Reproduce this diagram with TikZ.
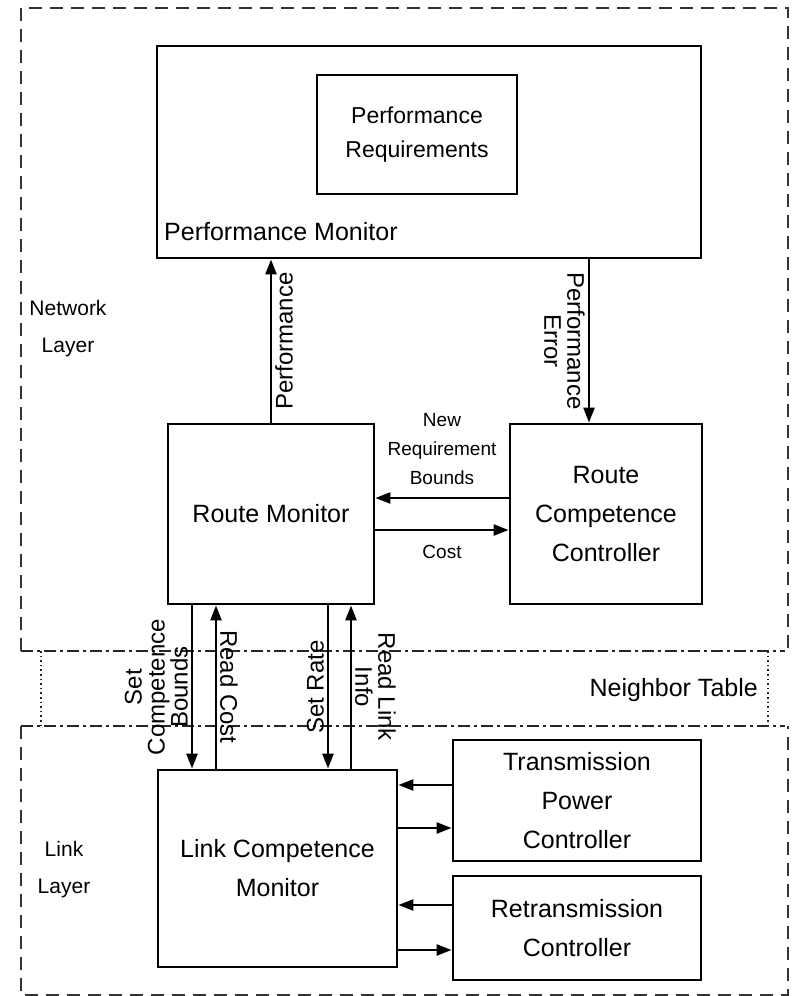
\documentclass[tikz,border=0pt]{standalone}
\usepackage{fontspec}
\setmainfont{Liberation Sans}
\usetikzlibrary{arrows.meta,positioning,calc}
\tikzset{
  >={Triangle[length=15pt,width=11pt]},
  box/.style 2 args={draw,line width=2.8pt,minimum width=#1,minimum height=#2,
    align=center,inner sep=0pt,font=\fontsize{25}{39}\selectfont},
  boxtext/.style={font=\fontsize{25}{39}\selectfont,inner sep=0pt},
  layername/.style={font=\fontsize{21}{37}\selectfont,align=center,inner sep=0pt},
  hlabel/.style={font=\fontsize{19}{29}\selectfont,align=center,inner sep=4pt},
  vlabel/.style={font=\fontsize{24}{23}\selectfont,align=center,inner sep=3pt},
  flow/.style={->,line width=2.4pt},
  layerline/.style={draw=black!80,line width=2.8pt,dash pattern=on 13pt off 8pt},
  boundline/.style={draw=black!85,line width=2.8pt,dash pattern=on 12pt off 4pt on 3pt off 4pt},
  nbline/.style={draw=black!85,line width=1.6pt,dash pattern=on 1.6pt off 3pt},
}
\begin{document}
\begin{tikzpicture}[x=1pt,y=-1pt]
  \useasboundingbox (0,0) rectangle (792,996);
  % layers
  \draw[layerline] (21,651) -- (21,8) -- (788,8) -- (788,651);
  \draw[layerline] (21,726) -- (21,995) -- (788,995) -- (788,726);
  \draw[boundline] (21,651) -- (785,651);
  \draw[boundline] (21,726) -- (785,726);
  \draw[nbline] (41,651) -- (41,726) (768,651) -- (768,726);
  \node[layername] (netlayer) at (68,329) {Network\\Layer};
  \node[layername] (linklayer) at (64,870) {Link\\Layer};
  \node[boxtext,anchor=east] (nbtable) at (758,690) {Neighbor Table};

  % network layer
  \node[box={544pt}{212pt}] (perfmon) at (429,152) {};
  \node[box={200pt}{119pt},font=\fontsize{23}{34}\selectfont] (perfreq) at (417,134.5) {Performance\\Requirements};
  \node[boxtext,anchor=west] (pmtitle) at (164,232) {Performance Monitor};
  \node[box={206pt}{180pt}] (routemon) at (271,514) {Route Monitor};
  \node[box={192pt}{180pt}] (rcc) at (606,514) {Route\\Competence\\Controller};

  % link layer
  \node[box={239pt}{197pt}] (lcm) at (277.5,868.5) {Link Competence\\Monitor};
  \node[box={248pt}{121pt}] (tpc) at (577,800.5) {Transmission\\Power\\Controller};
  \node[box={248pt}{104pt}] (rtc) at (577,928) {Retransmission\\Controller};

  \draw[flow] (routemon.north) -- (routemon.north |- perfmon.south)
    node[midway,vlabel,rotate=90,anchor=north] {Performance};
  \draw[flow] ([xshift=-17pt]rcc.north |- perfmon.south) -- ([xshift=-17pt]rcc.north)
    node[midway,vlabel,rotate=-90,anchor=north] {Performance\\Error};
  \draw[flow] ([yshift=16pt]rcc.west) -- ([yshift=16pt]routemon.east)
    node[midway,above=8pt,hlabel] {New\\Requirement\\Bounds};
  \draw[flow] ([yshift=-16pt]routemon.east) -- ([yshift=-16pt]rcc.west)
    node[midway,below=10pt,hlabel] {Cost};

  % route monitor <-> link competence monitor
  \draw[flow] ([xshift=-79pt]routemon.south) -- ([xshift=-79pt]routemon.south |- lcm.north)
    node[midway,vlabel,rotate=90,anchor=south] {Set\\Competence\\Bounds};
  \draw[flow] ([xshift=-55pt]routemon.south |- lcm.north) -- ([xshift=-55pt]routemon.south)
    node[midway,vlabel,rotate=-90,anchor=south] {Read Cost};
  \draw[flow] ([xshift=57pt]routemon.south) -- ([xshift=57pt]routemon.south |- lcm.north)
    node[midway,vlabel,rotate=90,anchor=south] {Set Rate};
  \draw[flow] ([xshift=80pt]routemon.south |- lcm.north) -- ([xshift=80pt]routemon.south)
    node[midway,vlabel,rotate=-90,anchor=south] {Read Link\\Info};

  % controllers
  \draw[flow] ([yshift=15.5pt]tpc.west) -- ([yshift=15.5pt]tpc.west -| lcm.east);
  \draw[flow] ([yshift=-27.5pt]tpc.west -| lcm.east) -- ([yshift=-27.5pt]tpc.west);
  \draw[flow] ([yshift=23pt]rtc.west) -- ([yshift=23pt]rtc.west -| lcm.east);
  \draw[flow] ([yshift=-22pt]rtc.west -| lcm.east) -- ([yshift=-22pt]rtc.west);
\end{tikzpicture}
\end{document}
